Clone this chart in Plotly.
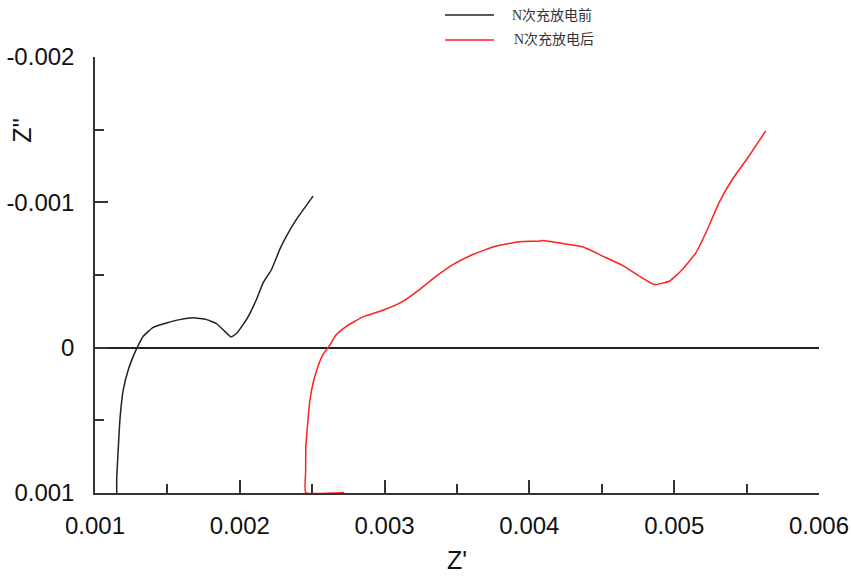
import plotly.graph_objects as go

# Black series: before N charge/discharge cycles
before_x = [0.00115, 0.00115, 0.001154, 0.001172, 0.001195, 0.00123, 0.001264, 0.001292, 0.001333,
            0.001402, 0.001494, 0.001586, 0.001678, 0.00177, 0.001839, 0.001897, 0.001938,
            0.001977, 0.002046, 0.002115, 0.002161, 0.002219, 0.002276, 0.002322, 0.002391,
            0.002506]
before_y = [0.001, 0.0009, 0.000819, 0.000497, 0.00029, 0.000152, 0.00006, -0.000002, -0.000078,
            -0.00014, -0.00017, -0.000193, -0.000205, -0.000193, -0.000166, -0.000112, -0.000074,
            -0.000097, -0.000193, -0.000331, -0.000446, -0.000538, -0.000676, -0.000768, -0.000883,
            -0.001043]

# Red series: after N charge/discharge cycles (first two points lie on the lower edge)
after_x = [0.002719, 0.002455, 0.002455, 0.002456, 0.002467, 0.002483, 0.002506, 0.00254, 0.002574,
           0.002616, 0.002667, 0.002736, 0.00285, 0.002988, 0.003126, 0.003241, 0.003357,
           0.003471, 0.003609, 0.00377, 0.003931, 0.004069, 0.004092, 0.00423, 0.004368,
           0.004506, 0.004643, 0.004759, 0.004862, 0.004966, 0.005057, 0.00515, 0.005219,
           0.00531, 0.005402, 0.005517, 0.005632]
after_y = [0.000996, 0.000996, 0.00085, 0.000681, 0.000543, 0.00037, 0.000243, 0.000129, 0.000048,
           -0.000009, -0.00009, -0.000147, -0.000212, -0.000257, -0.000319, -0.0004, -0.000492,
           -0.000572, -0.000641, -0.000699, -0.000729, -0.000733, -0.000738, -0.000717, -0.000694,
           -0.00063, -0.000566, -0.000492, -0.000434, -0.000457, -0.000538, -0.000653, -0.000791,
           -0.000998, -0.001159, -0.001319, -0.001492]

series_names = ["N次充放电前", "N次充放电后"]
series_colors = ["#222222", "#ff2020"]

x_tickvals = [0.001, 0.002, 0.003, 0.004, 0.005, 0.006]
x_ticktext = ["0.001", "0.002", "0.003", "0.004", "0.005", "0.006"]
y_tickvals = [-0.002, -0.001, 0, 0.001]
y_ticktext = ["-0.002", "-0.001", "0", "0.001"]

fig = go.Figure()
fig.add_trace(go.Scatter(x=before_x, y=before_y, mode="lines", name=series_names[0],
                         line=dict(color=series_colors[0], width=1.5, shape="spline", smoothing=0.4)))
fig.add_trace(go.Scatter(x=after_x, y=after_y, mode="lines", name=series_names[1],
                         line=dict(color=series_colors[1], width=1.5, shape="spline", smoothing=0.4)))

tick_font = dict(family="Liberation Sans, Arial, sans-serif", size=24, color="#111111")
legend_font = dict(family="Liberation Serif, Noto Sans CJK SC, serif", size=14, color="#333333")

# manual legend (line samples + labels) placed above the plot, like the original
legend_rows_y = [1.0963, 1.039]
legend_text_x = [0.5732, 0.576]
shapes = []
annotations = []
for i, name in enumerate(series_names):
    shapes.append(dict(type="line", xref="paper", yref="paper", x0=0.4834, x1=0.5511,
                       y0=legend_rows_y[i], y1=legend_rows_y[i],
                       line=dict(color=series_colors[i], width=1.5)))
    annotations.append(dict(text=name, xref="paper", yref="paper", x=legend_text_x[i],
                            y=legend_rows_y[i], xanchor="left", yanchor="middle",
                            showarrow=False, font=legend_font))

annotations += [
    dict(text="Z''", xref="paper", yref="paper", x=-0.101, y=0.833, showarrow=False,
         textangle=-90, xanchor="center", yanchor="middle",
         font=dict(family="Liberation Sans, Arial, sans-serif", size=25, color="#111111")),
    dict(text="Z'", xref="paper", yref="paper", x=0.5, y=-0.1915, showarrow=False,
         xanchor="center", yanchor="bottom",
         font=dict(family="Liberation Sans, Arial, sans-serif", size=25, color="#111111")),
]

fig.update_layout(
    width=851, height=578,
    margin=dict(l=95, r=32, t=57, b=85, autoexpand=False),
    paper_bgcolor="white", plot_bgcolor="white",
    showlegend=False,
    xaxis=dict(range=[0.001, 0.006], tickmode="array", tickvals=x_tickvals, ticktext=x_ticktext,
               ticks="inside", ticklen=13, tickwidth=1.5, tickcolor="#333333",
               minor=dict(dtick=0.0005, tick0=0, ticks="inside", ticklen=9, tickwidth=1.5,
                          tickcolor="#333333", showgrid=False),
               showline=True, linecolor="#333333", linewidth=1.5, mirror=False,
               showgrid=False, zeroline=False, tickfont=tick_font, ticklabelstandoff=10,
               layer="below traces"),
    yaxis=dict(range=[0.001, -0.002], tickmode="array", tickvals=y_tickvals, ticktext=y_ticktext,
               ticks="inside", ticklen=13, tickwidth=1.5, tickcolor="#333333",
               minor=dict(dtick=0.0005, tick0=0, ticks="inside", ticklen=9, tickwidth=1.5,
                          tickcolor="#333333", showgrid=False),
               showline=True, linecolor="#333333", linewidth=1.5, mirror=False,
               showgrid=False, zeroline=True, zerolinecolor="#222222", zerolinewidth=1.5,
               tickfont=tick_font, ticklabelstandoff=14, layer="below traces"),
    shapes=shapes,
    annotations=annotations,
)

fig.write_html("out.html")
